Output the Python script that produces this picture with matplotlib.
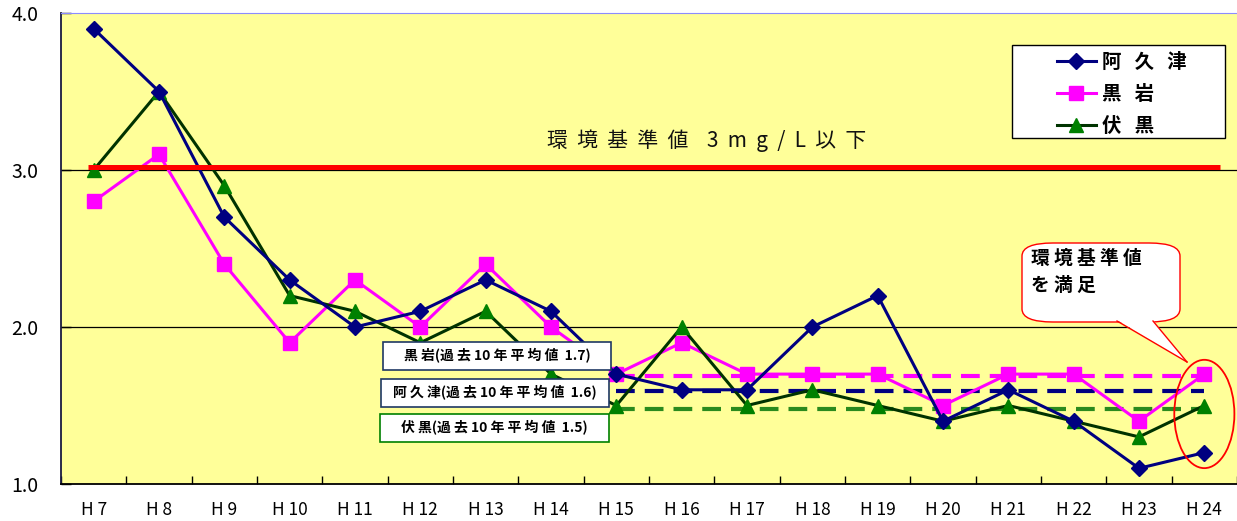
import numpy as np
import matplotlib
matplotlib.use("Agg")
import matplotlib.pyplot as plt
from matplotlib.patches import FancyBboxPatch, Ellipse, Polygon, Rectangle
from matplotlib.lines import Line2D

plt.rcParams['font.family'] = ['Noto Sans CJK JP', 'DejaVu Sans']

# data
years = ["H 7", "H 8", "H 9", "H 10", "H 11", "H 12", "H 13", "H 14", "H 15",
         "H 16", "H 17", "H 18", "H 19", "H 20", "H 21", "H 22", "H 23", "H 24"]
akutsu = [3.9, 3.5, 2.7, 2.3, 2.0, 2.1, 2.3, 2.1, 1.7,
          1.6, 1.6, 2.0, 2.2, 1.4, 1.6, 1.4, 1.1, 1.2]
kuroiwa = [2.8, 3.1, 2.4, 1.9, 2.3, 2.0, 2.4, 2.0, 1.7,
           1.9, 1.7, 1.7, 1.7, 1.5, 1.7, 1.7, 1.4, 1.7]
fushiguro = [3.0, 3.5, 2.9, 2.2, 2.1, 1.9, 2.1, 1.7, 1.5,
             2.0, 1.5, 1.6, 1.5, 1.4, 1.5, 1.4, 1.3, 1.5]

# 10 year averages (H15-H24)
avg_kuroiwa = 1.69
avg_akutsu = 1.59
avg_fushiguro = 1.48
standard = 3.02

W, H = 1237, 521
fig = plt.figure(figsize=(W / 100, H / 100), dpi=100)
fig.patch.set_facecolor("white")
ax = fig.add_axes([61 / W, 37 / H, (W - 61) / W, (484 - 13) / H])
ax.set_facecolor("#FFFF99")

x = np.arange(len(years))

# average dashed lines from H15 to H24
xa = x[8:]
ax.plot(xa, [avg_kuroiwa] * len(xa), color="#FF00FF", lw=3, dashes=(4.5, 2.4), zorder=2)
ax.plot(xa, [avg_akutsu] * len(xa), color="#000080", lw=3, dashes=(4.5, 2.4), zorder=2)
ax.plot(xa, [avg_fushiguro] * len(xa), color="#2A8A1E", lw=3, dashes=(4.5, 2.4), zorder=2)

l1, = ax.plot(x, akutsu, color="#000080", lw=2.2, marker="D", ms=8, mfc="#000080",
              mec="#000080", zorder=4)
l2, = ax.plot(x, kuroiwa, color="#FF00FF", lw=2.2, marker="s", ms=10, mfc="#FF00FF",
              mec="#FF00FF", zorder=3)
l3, = ax.plot(x, fushiguro, color="#003300", lw=2.2, marker="^", ms=10, mfc="#008000",
              mec="#008000", zorder=3)

# environmental standard line
ax.plot([-0.09, 17.24], [standard, standard], color="#FF0000", lw=3.6, zorder=5,
        solid_capstyle="butt")
ax.text(9.38, 3.185, "環  境  基  準  値    3  m  g  /  L  以  下", fontsize=15,
        ha="center", va="center", color="#111111", zorder=6)

ax.set_xlim(-0.5, 17.5)
ax.set_ylim(1.0, 4.0)
ax.set_yticks([1.0, 2.0, 3.0, 4.0])
ax.set_yticklabels(["1.0", "2.0", "3.0", "4.0"], fontsize=14)
ax.set_xticks(x)
ax.set_xticklabels(years, fontsize=12.5)
ax.set_xticks(np.arange(-0.5, 18, 1), minor=True)
ax.tick_params(axis="x", which="major", length=0, pad=12)
ax.tick_params(axis="x", which="minor", direction="in", length=6, width=1)
ax.tick_params(axis="y", direction="in", length=7, width=1, pad=16)
for yv in [2.0, 3.0]:
    ax.axhline(yv, color="black", lw=0.9, zorder=1)

ax.spines["right"].set_visible(False)
ax.spines["top"].set_color("#8C8CFF")
ax.spines["left"].set_color("#1A1A40")
ax.spines["left"].set_linewidth(1.3)
ax.spines["bottom"].set_linewidth(1.3)


def px(xp, yp):
    return xp / W, 1 - yp / H


# legend frame drawn separately so the entries can sit off-centre like the original
lx0, ly1 = px(1012, 138)
fig.add_artist(Rectangle((lx0, ly1), 213 / W, 93 / H, transform=fig.transFigure,
                         facecolor="white", edgecolor="black", lw=1.0, zorder=9))
leg = fig.legend([l1, l2, l3], ["阿   久   津", "黒   岩", "伏   黒"],
                 loc="upper left", bbox_to_anchor=px(1057, 53),
                 bbox_transform=fig.transFigure, frameon=False,
                 prop={"weight": "bold", "size": 14},
                 handlelength=2.0, borderpad=0, labelspacing=0.66,
                 borderaxespad=0, handletextpad=0.3)
leg.set_zorder(10)

# average label boxes
labels = [("黒 岩(過 去 10 年 平 均 値  1.7)", 383, 342, 228, "#1F3864"),
          ("阿 久 津(過 去 10 年 平 均 値  1.6)", 381, 379, 228, "#1F3864"),
          ("伏 黒(過 去 10 年 平 均 値  1.5)", 380, 414, 229, "#008000")]
for txt, bx, by, bw, ec in labels:
    x0, y1 = px(bx, by + 28)
    fig.add_artist(Rectangle((x0, y1), bw / W, 28 / H, transform=fig.transFigure,
                             facecolor="white", edgecolor=ec, lw=1.2, zorder=8))
    cx, cy = px(bx + bw / 2, by + 14)
    fig.text(cx, cy, txt, fontsize=10, weight="bold", ha="center", va="center",
             zorder=9)

# callout
bx0, by0 = px(1022, 322)
fig.add_artist(FancyBboxPatch((bx0, by0), 158 / W, 79 / H,
                              boxstyle="round,pad=0,rounding_size=0.025",
                              transform=fig.transFigure, facecolor="white",
                              edgecolor="#FF0000", lw=1.0, zorder=8))
fig.add_artist(Polygon([px(1117, 320), px(1187, 362), px(1153, 320)], closed=True,
                       transform=fig.transFigure, facecolor="white",
                       edgecolor="none", zorder=8.5))
for a, b in [((1117, 321), (1187, 362)), ((1153, 321), (1187, 362))]:
    p1, p2 = px(*a), px(*b)
    fig.add_artist(Line2D([p1[0], p2[0]], [p1[1], p2[1]], transform=fig.transFigure,
                          color="#FF0000", lw=1.0, zorder=8.6))
tx, ty = px(1031, 249)
fig.text(tx, ty, "環 境 基 準 値\nを 満 足", fontsize=13.5, weight="bold",
         ha="left", va="top", linespacing=1.5, zorder=9)

ax.add_patch(Ellipse((17, 1.446), 0.92, 0.69, facecolor="none", edgecolor="#FF0000",
                     lw=1.3, zorder=7, clip_on=False))

fig.savefig("out.png", dpi=100)
